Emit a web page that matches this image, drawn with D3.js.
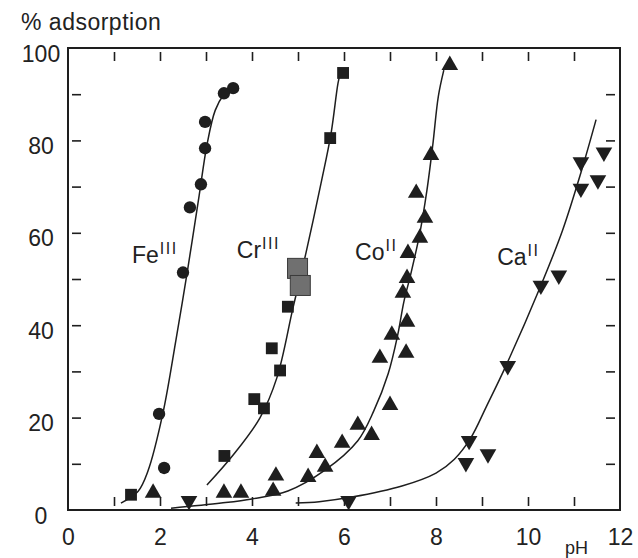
<!DOCTYPE html>
<html>
<head>
<meta charset="utf-8">
<script src="https://cdn.jsdelivr.net/npm/d3@7"></script>
<style>
  body { margin: 0; background: #fff; }
  text { font-family: "Liberation Sans", Arial, sans-serif; fill: #222; }
</style>
</head>
<body>
<svg id="chart"></svg>
<script>
// measured points, pH vs % adsorption
var fePoints = [[3.59, 91.3], [3.39, 90.2], [2.98, 84], [2.98, 78.3], [2.89, 70.5],
  [2.65, 65.5], [2.5, 51.4], [1.98, 20.8], [2.09, 9.1]];
var crPoints = [[5.98, 94.6], [5.7, 80.5], [4.78, 44], [4.43, 35], [4.61, 30.2],
  [4.05, 24], [4.26, 22], [3.4, 11.7], [1.37, 3.3]];
// the two overlapping grey squares around 50 %
var crGreyPoints = [[4.99, 52.3], [5.05, 48.6]];
var coPoints = [[8.3, 96.3], [7.89, 76.8], [7.57, 68.6], [7.76, 63.2], [7.65, 58.9],
  [7.39, 55.6], [7.37, 50.2], [7.28, 47], [7.37, 40.7], [7.04, 37.9], [6.78, 32.9],
  [7.35, 34], [7.0, 22.7], [6.3, 18.4], [6.6, 16.2], [5.96, 14.5], [5.41, 12.3],
  [5.59, 9.3], [5.22, 7.1], [4.52, 7.4], [4.46, 4.1], [3.76, 3.7], [3.39, 3.7], [1.85, 3.7]];
var caPoints = [[11.65, 77.4], [11.15, 75.3], [11.52, 71.4], [11.15, 69.6], [10.67, 50.8],
  [10.28, 48.6], [9.56, 31.2], [8.72, 15], [8.65, 10.2], [9.13, 12.1], [6.1, 2], [2.63, 2]];

// fitted curves
var feCurve = [[1.15, 1.5], [1.52, 4], [1.74, 8.5], [2.06, 20.8], [2.35, 37], [2.6, 52],
  [2.85, 68], [3.02, 79], [3.2, 86.5], [3.39, 90], [3.55, 91.5]];
var crCurve = [[3.02, 5.4], [3.59, 11.9], [4.17, 19.9], [4.54, 28.6], [4.89, 43.7],
  [5.17, 55.5], [5.5, 70.7], [5.72, 81.6], [5.87, 92.4], [5.93, 95]];
var coCurve = [[2.24, 0.4], [3.33, 1.5], [4.0, 2.4], [4.78, 4.1], [5.57, 8.5], [6.3, 15],
  [6.65, 21.5], [6.96, 29.5], [7.17, 38], [7.3, 45], [7.45, 51], [7.65, 60], [7.8, 69],
  [7.93, 79], [8.05, 89.5], [8.17, 95.2]];
var caCurve = [[4.95, 1.5], [5.46, 1.8], [6.17, 2.8], [7.26, 5.2], [8.0, 8], [8.4, 11],
  [8.75, 15.5], [9.1, 22.5], [9.52, 31.2], [10.28, 48.6], [10.75, 60.5], [11.15, 73],
  [11.48, 84.5]];

// ion labels
var ionNames = ["Fe", "Cr", "Co", "Ca"];
var ionCharges = ["III", "III", "II", "II"];

// tick values
var xLabelTicks = [0, 2, 4, 6, 8, 10, 12];
var xMinorTicks = [1, 2, 3, 4, 5, 6, 7, 8, 9, 10, 11];
var yLabelTicks = [0, 20, 40, 60, 80, 100];
var yMinorTicks = [10, 20, 30, 40, 50, 60, 70, 80, 90];

// sizes
var fullWidth = 638;
var fullHeight = 558;
var plot = {left: 68, right: 620, top: 48, bottom: 510};
var ink = "#1e1e1e";

var svg = d3.select("#chart")
  .attr("width", fullWidth)
  .attr("height", fullHeight);

svg.append("rect")
  .attr("width", fullWidth)
  .attr("height", fullHeight)
  .attr("fill", "#fff");

var xScale = d3.scaleLinear().domain([0, 12]).range([plot.left, plot.right]);
var yScale = d3.scaleLinear().domain([0, 100]).range([plot.bottom, plot.top]);

// tick marks sit a few px inside the frame, like in the scan
function tickMarks(axis, tx, ty) {
  var g = svg.append("g")
    .attr("transform", "translate(" + tx + "," + ty + ")")
    .call(axis);
  g.select(".domain").remove();
  g.selectAll("line").attr("stroke", ink).attr("stroke-width", 1.6);
  g.selectAll("text").remove();
  return g;
}

tickMarks(d3.axisTop(xScale).tickValues(xMinorTicks).tickSize(9), 0, yScale(0) - 4);
tickMarks(d3.axisBottom(xScale).tickValues(xMinorTicks).tickSize(9), 0, yScale(100) + 4);
tickMarks(d3.axisRight(yScale).tickValues(yMinorTicks).tickSize(9), xScale(0) + 4, 0);
tickMarks(d3.axisLeft(yScale).tickValues(yMinorTicks).tickSize(9), xScale(12) - 5, 0);

// frame
svg.append("rect")
  .attr("x", xScale(0))
  .attr("y", yScale(100))
  .attr("width", xScale(12) - xScale(0))
  .attr("height", yScale(0) - yScale(100))
  .attr("fill", "none")
  .attr("stroke", ink)
  .attr("stroke-width", 2);

// axis labels
var xLabels = svg.append("g")
  .attr("transform", "translate(0," + yScale(0) + ")")
  .call(d3.axisBottom(xScale).tickValues(xLabelTicks).tickSize(0).tickPadding(19));
xLabels.select(".domain").remove();
xLabels.selectAll("text")
  .attr("font-size", 23)
  .attr("font-family", null)
  .attr("fill", ink);

var yLabels = svg.append("g")
  .attr("transform", "translate(" + xScale(0) + ",0)")
  .call(d3.axisLeft(yScale).tickValues(yLabelTicks).tickSize(0));
yLabels.select(".domain").remove();
yLabels.selectAll("text")
  .attr("font-size", 23)
  .attr("font-family", null)
  .attr("text-anchor", "middle")
  .attr("x", -27)
  .attr("dy", "0.57em")
  .attr("fill", ink);

svg.append("text")
  .attr("x", 21)
  .attr("y", 30)
  .attr("font-size", 23)
  .attr("letter-spacing", 0.5)
  .text("% adsorption");

svg.append("text")
  .attr("x", 565)
  .attr("y", 554)
  .attr("font-size", 18)
  .text("pH");

// curves
var line = d3.line()
  .x(function(d) { return xScale(d[0]); })
  .y(function(d) { return yScale(d[1]); })
  .curve(d3.curveCatmullRom.alpha(0.5));

[feCurve, crCurve, coCurve, caCurve].forEach(function(c) {
  svg.append("path")
    .attr("d", line(c))
    .attr("fill", "none")
    .attr("stroke", ink)
    .attr("stroke-width", 1.5);
});

// markers
function drawMarkers(points, type, size, fill, rotate) {
  svg.append("g").selectAll("path")
    .data(points)
    .join("path")
    .attr("d", d3.symbol().type(type).size(size))
    .attr("transform", function(d) {
      return "translate(" + xScale(d[0]) + "," + yScale(d[1]) + ")" +
        (rotate ? " rotate(" + rotate + ")" : "");
    })
    .attr("fill", fill);
}

drawMarkers(fePoints, d3.symbolCircle, 120, ink);
drawMarkers(crPoints, d3.symbolSquare, 140, ink);
svg.append("g").selectAll("rect")
  .data(crGreyPoints)
  .join("rect")
  .attr("x", function(d) { return xScale(d[0]) - 10; })
  .attr("y", function(d) { return yScale(d[1]) - 10; })
  .attr("width", 20)
  .attr("height", 20)
  .attr("fill", "#707070")
  .attr("stroke", "#3a3a3a")
  .attr("stroke-width", 1);
drawMarkers(coPoints, d3.symbolTriangle, 120, ink);
drawMarkers(caPoints, d3.symbolTriangle, 120, ink, 180);

// ion labels, placed in data units
var labelAt = [[1.39, 53.5], [3.67, 54.5], [6.24, 54.1], [9.33, 53]];
ionNames.forEach(function(name, i) {
  var t = svg.append("text")
    .attr("x", xScale(labelAt[i][0]))
    .attr("y", yScale(labelAt[i][1]))
    .attr("font-size", 23)
    .text(name);
  t.append("tspan")
    .attr("dy", -9)
    .attr("dx", 1)
    .attr("font-size", 16)
    .attr("letter-spacing", 1.5)
    .text(ionCharges[i]);
});
</script>
</body>
</html>
